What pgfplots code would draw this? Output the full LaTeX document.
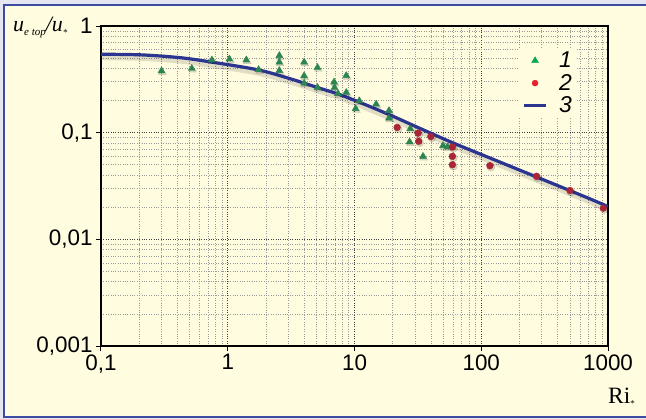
\documentclass[border=0pt]{standalone}
\usepackage{fontspec}
\setmainfont{Liberation Serif}
\newfontfamily\sans{Liberation Sans}
\usepackage{pgfplots}
\pgfplotsset{compat=1.18}
\usepackage{pgfplotstable}

\definecolor{bgout}{HTML}{E6E6F2}
\definecolor{cream}{HTML}{FFFCE0}
\definecolor{frameblue}{HTML}{3D4BA3}
\definecolor{navy}{HTML}{2B3590}
\definecolor{tri}{HTML}{2A8550}
\definecolor{triL}{HTML}{00A651}
\definecolor{dot}{HTML}{AA2535}
\definecolor{dotL}{HTML}{E8202A}

\pgfplotsset{
  markleg/.style={legend image code/.code={\draw[##1] plot coordinates {(11bp,0bp)};}},
  lineleg/.style={legend image code/.code={\draw[##1] (0bp,0bp) -- (22bp,0bp);}},
}

% series 1: triangles
\pgfplotstableread{
x y
0.30 0.38
0.52 0.40
0.75 0.48
1.03 0.49
1.40 0.48
1.75 0.39
2.55 0.528
2.55 0.458
2.55 0.382
4.0 0.458
4.0 0.341
4.0 0.291
5.1 0.408
5.1 0.265
6.9 0.298
6.95 0.265
7.4 0.232
8.6 0.343
8.6 0.238
10.9 0.199
10.2 0.168
14.8 0.185
18.7 0.161
18.7 0.137
27.5 0.109
27.2 0.082
34.7 0.060
49.9 0.0756
54.0 0.0735
}\seriesone

% series 2: circles
\pgfplotstableread{
x y
21.7 0.112
31.7 0.099
32.1 0.083
40.0 0.092
59.2 0.0735
59.2 0.060
59.2 0.050
117 0.049
273 0.039
501 0.0287
918 0.0196
}\seriestwo

% series 3: curve
\pgfplotstableread{
x y
0.1 0.544
0.21 0.536
0.42 0.505
0.754 0.458
1.74 0.388
3.12 0.320
5.10 0.265
7.34 0.2314
10.95 0.1928
19.26 0.1457
33.2 0.1090
60.6 0.0797
112.6 0.0590
205.3 0.0441
374 0.0330
695 0.0244
1000 0.0203
}\seriesthree

\begin{document}
\begin{tikzpicture}
\useasboundingbox (0bp,0bp) rectangle (646bp,419bp);
\fill[bgout] (0bp,0bp) rectangle (646bp,419bp);
\fill[cream] (4bp,2bp) rectangle (660bp,414bp);
\draw[frameblue, line width=2bp] (4bp,2bp) rectangle (660bp,414bp);

\begin{axis}[
  at={(101bp,73bp)}, anchor=south west,
  scale only axis, width=507bp, height=320bp,
  xmode=log, ymode=log,
  xmin=0.1, xmax=1000, ymin=0.001, ymax=1,
  xtick={0.1,1,10,100,1000},
  xticklabels={{0,1},1,10,100,1000},
  ytick={0.001,0.01,0.1,1},
  yticklabels={{0,001},{0,01},{0,1},1},
  minor xtick={0.2,0.3,0.4,0.5,0.6,0.7,0.8,0.9,2,3,4,5,6,7,8,9,20,30,40,50,60,70,80,90,200,300,400,500,600,700,800,900},
  minor ytick={0.002,0.003,0.004,0.005,0.006,0.007,0.008,0.009,0.02,0.03,0.04,0.05,0.06,0.07,0.08,0.09,0.2,0.3,0.4,0.5,0.6,0.7,0.8,0.9},
  grid=both,
  major grid style={dotted, black!75, line width=0.7bp},
  minor grid style={dotted, black!40, line width=0.6bp},
  tick align=outside, major tick length=5bp, minor tick length=0pt,
  xtick pos=left, ytick pos=left,
  axis line style={line width=1.1bp, black},
  tick style={black, line width=1bp},
  ticklabel style={font=\sans\fontsize{22.5}{22.5}\selectfont},
  legend style={at={(0.825,0.93)}, anchor=north west, fill=cream, draw=none,
    font=\sans\itshape\fontsize{23}{23}\selectfont, row sep=2bp,
    nodes={inner sep=1.5bp},
    /tikz/every odd column/.append style={column sep=10bp}},
  legend cell align=left,
]
% shadows
\addplot[forget plot, no marks, smooth, line width=6bp, black, opacity=0.12, yshift=-3bp, xshift=1bp] table {\seriesthree};
\addplot[forget plot, only marks, mark=triangle*, mark size=4.5bp, black, opacity=0.14, yshift=-1.5bp, xshift=1bp] table {\seriesone};
\addplot[forget plot, only marks, mark=*, mark size=4bp, black, opacity=0.14, yshift=-1.5bp, xshift=1bp] table {\seriestwo};
% data
\addplot[forget plot, only marks, mark=triangle*, mark size=4bp, tri] table {\seriesone};
\addplot[forget plot, only marks, mark=*, mark size=3.4bp, dot] table {\seriestwo};
\addplot[forget plot, no marks, smooth, line width=3.2bp, navy] table {\seriesthree};

\addlegendimage{only marks, mark=triangle*, mark size=4bp, triL, markleg}
\addlegendentry{1}
\addlegendimage{only marks, mark=*, mark size=3bp, dotL, markleg}
\addlegendentry{2}
\addlegendimage{no marks, line width=3.2bp, navy, lineleg}
\addlegendentry{3}
\end{axis}

\node[anchor=base west, inner sep=0pt, font=\fontsize{22}{22}\selectfont\itshape]
  at (13bp,387bp) {u\raisebox{-0.35ex}{\fontsize{11}{11}\selectfont e top}/u\raisebox{-0.3ex}{\fontsize{9}{9}\selectfont *}};
\node[anchor=base west, inner sep=0pt, font=\fontsize{23.5}{23.5}\selectfont]
  at (608bp,16bp) {Ri\raisebox{-0.3ex}{\fontsize{9}{9}\selectfont *}};
\end{tikzpicture}
\end{document}
